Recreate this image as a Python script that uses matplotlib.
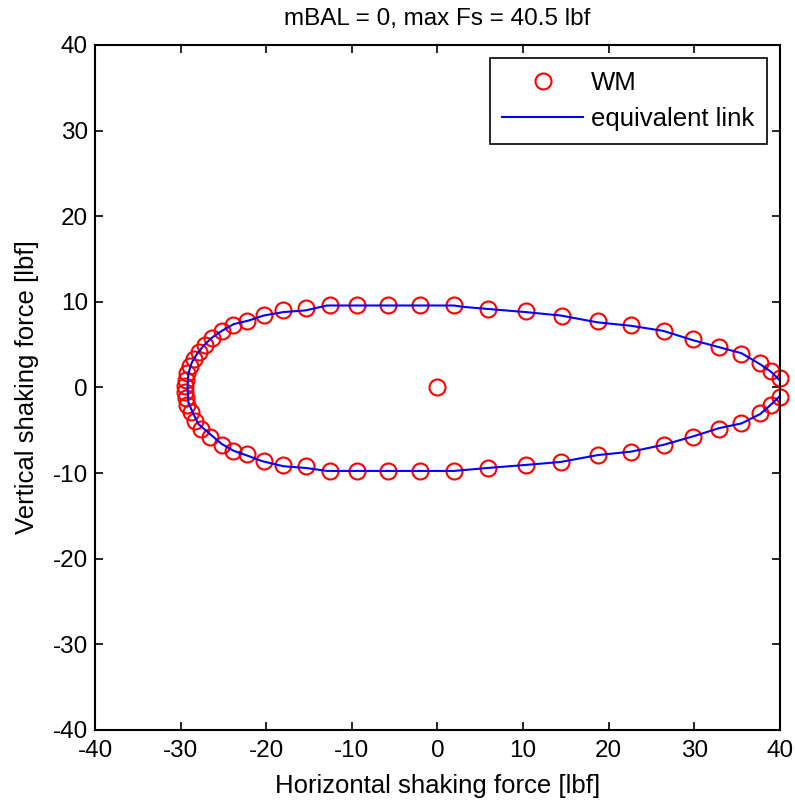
import numpy as np
import matplotlib
matplotlib.use("Agg")
import matplotlib.pyplot as plt

plt.rcParams['font.family'] = ['Liberation Sans', 'DejaVu Sans']
plt.rcParams['axes.unicode_minus'] = False

# WM points, upper half (right to left) then lower half (left to right)
wm_x_top = [40.0, 39.0, 37.7, 35.5, 32.9, 29.9, 26.4, 22.6, 18.7, 14.5, 10.3, 5.9, 1.9,
            -2.0, -5.8, -9.4, -12.6, -15.4, -18.0, -20.3, -22.2, -23.9, -25.2, -26.3,
            -27.2, -27.9, -28.4, -28.9, -29.2, -29.4, -29.5]
wm_y_top = [1.1, 1.9, 2.9, 3.9, 4.7, 5.6, 6.6, 7.3, 7.8, 8.4, 8.9, 9.2, 9.6,
            9.6, 9.6, 9.6, 9.6, 9.3, 9.0, 8.5, 7.8, 7.3, 6.6, 5.8,
            4.9, 4.1, 3.3, 2.5, 1.7, 0.9, 0.2]
wm_x_bot = [-29.5, -29.4, -29.2, -28.8, -28.3, -27.6, -26.6, -25.2, -23.9, -22.2, -20.3,
            -18.0, -15.4, -12.6, -9.4, -5.8, -2.0, 1.9, 5.9, 10.3, 14.4, 18.7, 22.6,
            26.4, 29.9, 32.9, 35.5, 37.7, 39.0, 40.0]
wm_y_bot = [-0.5, -1.2, -2.0, -2.9, -3.9, -4.8, -5.8, -6.7, -7.4, -7.8, -8.6,
            -9.0, -9.2, -9.75, -9.75, -9.75, -9.75, -9.75, -9.4, -9.05, -8.7, -7.9, -7.5,
            -6.7, -5.8, -4.9, -4.2, -3.0, -2.0, -1.1]
center_x = [0.0]
center_y = [0.0]

# equivalent link curve
link_x = [40.1, 39.0, 37.7, 35.5, 32.9, 29.9, 26.4, 22.6, 18.7, 14.4, 10.3, 3.1, 1.9,
          -12.9, -15.4, -18.0, -20.3, -22.1, -23.8, -25.2, -26.3, -27.3, -28.1, -28.7,
          -29.1, -29.2, -29.1, -28.5, -27.9, -26.5, -25.2, -23.8, -22.1, -20.5, -18.0,
          -15.4, -12.9, 1.9, 5.9, 10.3, 14.4, 18.7, 22.6, 26.4, 29.9, 32.9, 35.5, 37.7,
          39.0, 40.1]
link_y = [0.7, 1.8, 2.7, 4.0, 4.7, 5.5, 6.6, 7.2, 7.6, 8.4, 8.8, 9.4, 9.57,
          9.57, 9.0, 8.8, 8.4, 7.8, 7.4, 6.6, 5.85, 4.9, 3.9, 2.9,
          1.6, 0.0, -1.75, -3.1, -4.3, -5.5, -6.6, -7.4, -8.0, -8.6, -9.2,
          -9.4, -9.75, -9.75, -9.4, -9.05, -8.7, -7.9, -7.5, -6.7, -5.7, -4.75, -4.2, -3.1,
          -1.95, -0.9]

wm_x = wm_x_top + wm_x_bot
wm_y = wm_y_top + wm_y_bot

fig = plt.figure(figsize=(7.95, 8.05), dpi=100)
ax = fig.add_axes([0.1195, 0.0932, 0.8616, 0.851])

ax.plot(wm_x, wm_y, 'o', mfc='none', mec='red', ms=11.5, mew=1.5, label='WM', clip_on=False)
ax.plot(center_x, center_y, 'o', mfc='none', mec='red', ms=11.5, mew=1.5)
ax.plot(link_x, link_y, '-', color='blue', lw=1.5, label='equivalent link')

ax.set_xlim(-40, 40)
ax.set_ylim(-40, 40)
ax.set_xticks(np.arange(-40, 41, 10))
ax.set_yticks(np.arange(-40, 41, 10))
ax.tick_params(direction='in', top=True, right=True, length=6, width=1.2, labelsize=17.5)
ax.tick_params(axis='x', pad=7)
ax.tick_params(axis='y', pad=5)
for s in ax.spines.values():
    s.set_linewidth(1.5)

ax.set_title('mBAL = 0, max Fs = 40.5 lbf', fontsize=17.5, pad=14)
ax.set_xlabel('Horizontal shaking force [lbf]', fontsize=18.5, labelpad=9)
ax.set_ylabel('Vertical shaking force [lbf]', fontsize=18.5, labelpad=10)

leg = ax.legend(loc='upper right', fontsize=18.5, fancybox=False, edgecolor='black',
                framealpha=1, borderaxespad=0.5, handlelength=3.15, handletextpad=0.3,
                borderpad=0.5, labelspacing=0.5)
leg.get_frame().set_linewidth(1.2)

fig.savefig('out.png', dpi=100)
